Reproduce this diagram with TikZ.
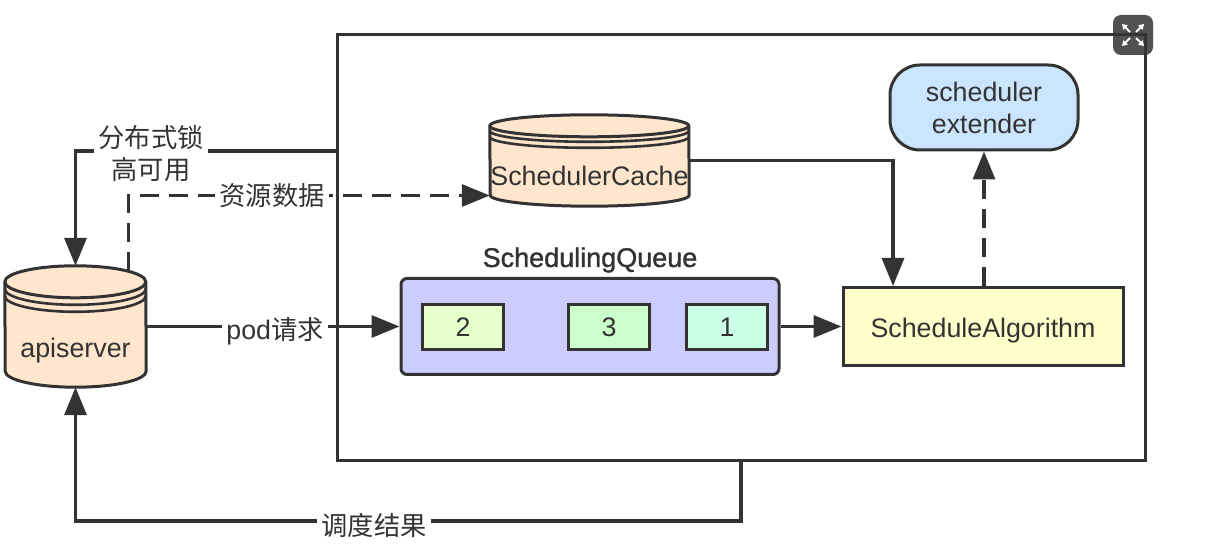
\documentclass[tikz,border=0pt]{standalone}
\usepackage{fontspec}
\setmainfont{Liberation Sans}
\newfontfamily\cjk[Scale=0.98]{Noto Sans CJK SC}
\newfontfamily\medfont[FakeBold=1.2]{Liberation Sans}
\usepackage{tikz}
\usetikzlibrary{arrows.meta,calc}
\definecolor{inkcol}{HTML}{333333}
\definecolor{drumcol}{HTML}{FFE6CC}
\definecolor{queuecol}{HTML}{CCCCFF}
\definecolor{slota}{HTML}{CCFFE6}
\definecolor{slotb}{HTML}{E6FFCC}
\definecolor{slotc}{HTML}{CCFFCC}
\definecolor{algocol}{HTML}{FFFFCC}
\definecolor{extcol}{HTML}{CCE5FF}
\definecolor{iconcol}{HTML}{333333}
\tikzset{
  shapeline/.style={draw=inkcol,line width=3bp},
  txt/.style={text=inkcol,font=\fontsize{26.8bp}{32bp}\selectfont,inner sep=0pt,align=center},
  wiretxt/.style={txt,fill=white,inner sep=4bp},
  link/.style={draw=inkcol,line width=3.4bp,->},
  dashlink/.style={link,dash pattern=on 19bp off 10bp},
  slot/.style={shapeline,minimum width=81bp,minimum height=45bp,inner sep=0pt,txt},
}
% name, centre x, centre y, width, height, ry, second and third rim
\newcommand{\drum}[8]{
  \node[minimum width=#4,minimum height=#5,inner sep=0pt] (#1) at (#2,#3) {};
  \draw[shapeline,fill=drumcol] ([yshift=-#6]#1.north west) arc[start angle=180,end angle=0,x radius=#4/2,y radius=#6]
    -- ([yshift=#6]#1.south east) arc[start angle=0,end angle=-180,x radius=#4/2,y radius=#6] -- cycle;
  \draw[shapeline] ([yshift=-#6]#1.north west) arc[start angle=180,end angle=360,x radius=#4/2,y radius=#6];
  \draw[shapeline,line width=2.6bp] ([yshift=-#6-#7]#1.north west) arc[start angle=180,end angle=360,x radius=#4/2,y radius=#6];
  \draw[shapeline,line width=2.6bp] ([yshift=-#6-#8]#1.north west) arc[start angle=180,end angle=360,x radius=#4/2,y radius=#6];
}
\begin{document}
\begin{tikzpicture}[>={Triangle[length=28bp,width=22bp]},line join=miter]
%%
  \useasboundingbox (0bp,0bp) rectangle (1231bp,552bp);
  \node[shapeline,minimum width=808bp,minimum height=426bp,inner sep=0pt] (scheduler) at (741bp,304bp) {};
  \drum{apiserver}{75.5bp}{225.5bp}{141bp}{121bp}{16bp}{7bp}{14bp}
  \node[txt] (apilabel) at (75.5bp,201bp) {apiserver};
  \drum{cache}{589.5bp}{391.5bp}{199bp}{91bp}{11bp}{5bp}{11bp}
  \node[txt] (cachelabel) at (589.5bp,376bp) {SchedulerCache};
  \node[txt,font=\medfont\fontsize{27bp}{32bp}\selectfont] (queuetitle) at (590bp,292bp) {SchedulingQueue};
  \node[shapeline,fill=queuecol,rounded corners=6bp,minimum width=378bp,minimum height=96bp,inner sep=0pt] (queue) at (590bp,225.5bp) {};
  \node[slot,fill=slotb] (slottwo) at (463bp,225bp) {2};
  \node[slot,fill=slotc] (slotthree) at (609bp,225bp) {3};
  \node[slot,fill=slota] (slotone) at (727bp,225bp) {1};
  \node[shapeline,fill=algocol,minimum width=280bp,minimum height=78bp,inner sep=0pt] (algo) at (983bp,225.5bp) {};
  \node[txt] (algolabel) at (983bp,221bp) {ScheduleAlgorithm};
  \node[shapeline,fill=extcol,rounded corners=30bp,minimum width=188bp,minimum height=85bp,inner sep=0pt,txt] (extender) at (984bp,444.5bp) {scheduler\\extender};
%
  \draw[link] ([yshift=97bp]scheduler.west) -| (apiserver.north);
  \draw[dashlink] ([xshift=53bp,yshift=-5bp]apiserver.north) |- ([yshift=-35bp]cache.west);
  \draw[link] (apiserver.east) -- (queue.west);
  \draw[link] (queue.east) -- (algo.west);
  \draw[link] (cache.east) -| ([xshift=-90bp]algo.north);
  \draw[dashlink] ([xshift=1bp]algo.north) -- (extender.south);
  \coordinate (resultturn) at (75.5bp,31bp);
  \draw[link] (scheduler.south) |- (resultturn) -- (apiserver.south);
%
  \node[wiretxt] (locklabel) at (151bp,398bp) {{\cjk 分布式锁}\\{\cjk 高可用}};
  \node[wiretxt] (datalabel) at (272bp,356bp) {\cjk 资源数据};
  \node[wiretxt] (podlabel) at (275bp,221bp) {pod{\cjk 请求}};
  \node[wiretxt] (resultlabel) at (374bp,27bp) {\cjk 调度结果};
%
  \node[fill=iconcol,fill opacity=.85,rounded corners=8bp,minimum size=40bp,inner sep=0pt] (expandicon) at (1133bp,517bp) {};
  \foreach \sx/\sy in {1/1,1/-1,-1/1,-1/-1}
    \draw[white,line width=1.8bp,-{Triangle[length=5bp,width=6bp]}] ($(expandicon.center)+(\sx*3bp,\sy*3bp)$) -- ($(expandicon.center)+(\sx*11bp,\sy*11bp)$);
%
\end{tikzpicture}
\end{document}
